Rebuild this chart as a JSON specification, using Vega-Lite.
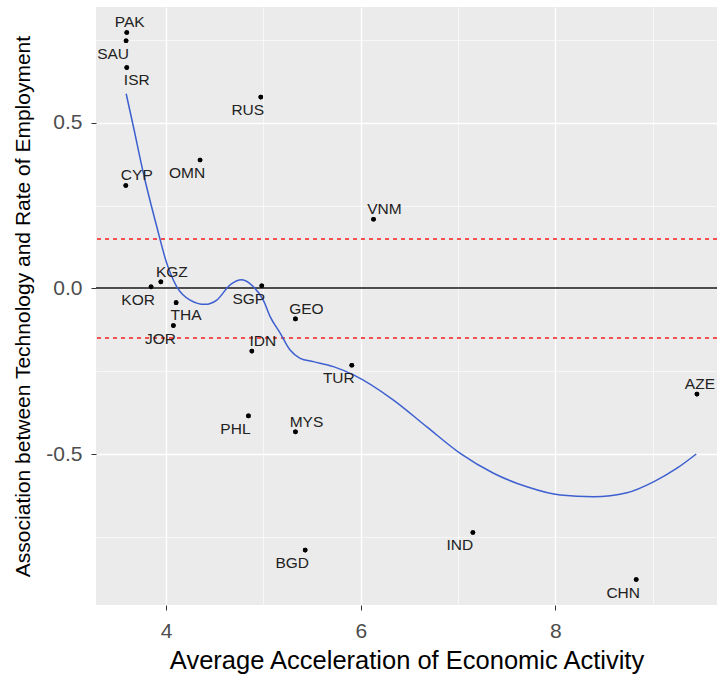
{
  "$schema": "https://vega.github.io/schema/vega-lite/v6.json",
  "width": 621,
  "height": 598,
  "autosize": {"type": "none"},
  "padding": {"left": 96, "top": 7, "right": 0, "bottom": 73},
  "background": "white",
  "config": {
    "view": {"fill": "#EBEBEB", "stroke": null},
    "font": "Liberation Sans",
    "text": {"font": "Liberation Sans"}
  },
  "datasets": {
    "countries": [
      {"code": "PAK", "x": 3.596, "y": 0.773, "pos": "n"},
      {"code": "SAU", "x": 3.589, "y": 0.748, "pos": "sw"},
      {"code": "ISR", "x": 3.596, "y": 0.667, "pos": "se"},
      {"code": "RUS", "x": 4.973, "y": 0.578, "pos": "sw"},
      {"code": "OMN", "x": 4.349, "y": 0.388, "pos": "sw"},
      {"code": "CYP", "x": 3.586, "y": 0.311, "pos": "ne"},
      {"code": "VNM", "x": 6.131, "y": 0.209, "pos": "ne"},
      {"code": "KOR", "x": 3.846, "y": 0.005, "pos": "sw"},
      {"code": "KGZ", "x": 3.946, "y": 0.020, "pos": "ne"},
      {"code": "SGP", "x": 4.983, "y": 0.008, "pos": "sw"},
      {"code": "THA", "x": 4.103, "y": -0.043, "pos": "se"},
      {"code": "GEO", "x": 5.329, "y": -0.092, "pos": "ne"},
      {"code": "JOR", "x": 4.075, "y": -0.112, "pos": "sw"},
      {"code": "IDN", "x": 4.881, "y": -0.189, "pos": "ne"},
      {"code": "TUR", "x": 5.908, "y": -0.232, "pos": "sw"},
      {"code": "PHL", "x": 4.846, "y": -0.385, "pos": "sw"},
      {"code": "MYS", "x": 5.329, "y": -0.433, "pos": "ne"},
      {"code": "BGD", "x": 5.429, "y": -0.790, "pos": "sw"},
      {"code": "AZE", "x": 9.454, "y": -0.319, "pos": "n"},
      {"code": "IND", "x": 7.152, "y": -0.737, "pos": "sw"},
      {"code": "CHN", "x": 8.830, "y": -0.879, "pos": "sw"}
    ],
    "fit": [
      {"x": 3.59, "y": 0.588},
      {"x": 3.664, "y": 0.489},
      {"x": 3.767, "y": 0.348},
      {"x": 3.904, "y": 0.187},
      {"x": 4.007, "y": 0.076},
      {"x": 4.110, "y": 0.005},
      {"x": 4.247, "y": -0.035},
      {"x": 4.40, "y": -0.048},
      {"x": 4.521, "y": -0.035},
      {"x": 4.658, "y": 0.011},
      {"x": 4.778, "y": 0.026},
      {"x": 4.897, "y": 0.005},
      {"x": 4.999, "y": -0.035},
      {"x": 5.069, "y": -0.085},
      {"x": 5.172, "y": -0.135},
      {"x": 5.274, "y": -0.186},
      {"x": 5.377, "y": -0.211},
      {"x": 5.514, "y": -0.221},
      {"x": 5.719, "y": -0.236},
      {"x": 5.925, "y": -0.261},
      {"x": 6.336, "y": -0.337},
      {"x": 6.679, "y": -0.418},
      {"x": 7.022, "y": -0.498},
      {"x": 7.364, "y": -0.558},
      {"x": 7.707, "y": -0.599},
      {"x": 8.049, "y": -0.624},
      {"x": 8.392, "y": -0.629},
      {"x": 8.735, "y": -0.617},
      {"x": 9.008, "y": -0.584},
      {"x": 9.249, "y": -0.543},
      {"x": 9.447, "y": -0.500}
    ]
  },
  "data": {"name": "countries"},
  "layer": [
    {
      "mark": {"type": "point", "filled": true, "color": "black", "size": 22, "opacity": 1},
      "encoding": {
        "x": {
          "field": "x", "type": "quantitative",
          "scale": {"domain": [3.28, 9.66], "nice": false, "zero": false},
          "axis": {
            "values": [4, 5, 6, 7, 8, 9],
            "title": "Average Acceleration of Economic Activity",
            "grid": true,
            "gridColor": "white",
            "gridWidth": {"condition": {"test": "datum.value % 2 === 0", "value": 1.3}, "value": 0.6},
            "labelExpr": "datum.value % 2 === 0 ? format(datum.value, 'd') : ''",
            "tickColor": {"condition": {"test": "datum.value % 2 === 0", "value": "#333333"}, "value": "transparent"},
            "domain": false,
            "tickSize": 5,
            "labelFontSize": 21,
            "labelColor": "#4D4D4D",
            "labelPadding": 10,
            "labelFont": "Liberation Sans",
            "titleFont": "Liberation Sans",
            "titleFontSize": 25.5,
            "titleColor": "black",
            "titleFontWeight": "normal",
            "titlePadding": 7
          }
        },
        "y": {
          "field": "y", "type": "quantitative",
          "scale": {"domain": [-0.956, 0.850], "nice": false, "zero": false},
          "axis": {
            "values": [-0.75, -0.5, -0.25, 0, 0.25, 0.5, 0.75],
            "title": "Association between Technology and Rate of Employment",
            "grid": true,
            "gridColor": "white",
            "gridWidth": {"condition": {"test": "abs(datum.value * 4) % 2 === 0", "value": 1.3}, "value": 0.6},
            "labelExpr": "datum.value === 0 ? '0.0' : (datum.value === 0.5 ? '0.5' : (datum.value === -0.5 ? '-0.5' : ''))",
            "tickColor": {"condition": {"test": "abs(datum.value * 4) % 2 === 0", "value": "#333333"}, "value": "transparent"},
            "domain": false,
            "tickSize": 5,
            "labelFontSize": 21,
            "labelColor": "#4D4D4D",
            "labelPadding": 9,
            "labelFont": "Liberation Sans",
            "titleFont": "Liberation Sans",
            "titleFontSize": 21,
            "titleColor": "black",
            "titleFontWeight": "normal",
            "titlePadding": 12
          }
        }
      }
    },
    {
      "mark": {"type": "rule", "color": "#4D4D4D", "strokeWidth": 1.2},
      "encoding": {"y": {"datum": 0}}
    },
    {
      "mark": {"type": "rule", "color": "#F25050", "strokeWidth": 1.1, "strokeDash": [4, 4]},
      "encoding": {"y": {"datum": 0.15}}
    },
    {
      "mark": {"type": "rule", "color": "#F25050", "strokeWidth": 1.1, "strokeDash": [4, 4]},
      "encoding": {"y": {"datum": -0.15}}
    },
    {
      "data": {"name": "fit"},
      "mark": {"type": "line", "color": "#3D5FD0", "strokeWidth": 1.5, "interpolate": "monotone"},
      "encoding": {
        "x": {"field": "x", "type": "quantitative"},
        "y": {"field": "y", "type": "quantitative"}
      }
    },
    {
      "mark": {"type": "point", "filled": true, "color": "black", "size": 22, "opacity": 1},
      "encoding": {
        "x": {"field": "x", "type": "quantitative"},
        "y": {"field": "y", "type": "quantitative"}
      }
    },
    {
      "transform": [{"filter": "datum.pos === 'ne'"}],
      "mark": {"type": "text", "fontSize": 15.5, "color": "#222222", "dx": 11, "dy": -10},
      "encoding": {
        "x": {"field": "x", "type": "quantitative"},
        "y": {"field": "y", "type": "quantitative"},
        "text": {"field": "code"}
      }
    },
    {
      "transform": [{"filter": "datum.pos === 'sw'"}],
      "mark": {"type": "text", "fontSize": 15.5, "color": "#222222", "dx": -13, "dy": 13},
      "encoding": {
        "x": {"field": "x", "type": "quantitative"},
        "y": {"field": "y", "type": "quantitative"},
        "text": {"field": "code"}
      }
    },
    {
      "transform": [{"filter": "datum.pos === 'se'"}],
      "mark": {"type": "text", "fontSize": 15.5, "color": "#222222", "dx": 10, "dy": 12},
      "encoding": {
        "x": {"field": "x", "type": "quantitative"},
        "y": {"field": "y", "type": "quantitative"},
        "text": {"field": "code"}
      }
    },
    {
      "transform": [{"filter": "datum.pos === 'n'"}],
      "mark": {"type": "text", "fontSize": 15.5, "color": "#222222", "dx": 3, "dy": -10},
      "encoding": {
        "x": {"field": "x", "type": "quantitative"},
        "y": {"field": "y", "type": "quantitative"},
        "text": {"field": "code"}
      }
    }
  ]
}
